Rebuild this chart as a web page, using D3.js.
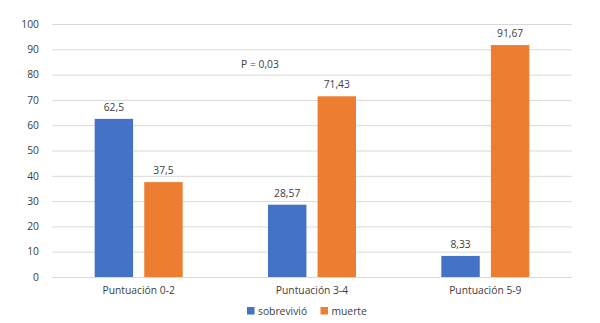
<!DOCTYPE html>
<html><head><meta charset="utf-8">
<script src="https://cdn.jsdelivr.net/npm/d3@7"></script>
<style>body{margin:0;background:#fff}svg{display:block}text{font-family:"Open Sans",sans-serif;fill:#404040}</style>
</head><body>
<svg id="c" width="600" height="323"></svg>
<script>
const categories = ["Puntuación 0-2", "Puntuación 3-4", "Puntuación 5-9"];
const seriesNames = ["sobrevivió", "muerte"];
const sobrevivio = [62.5, 28.57, 8.33];
const muerte = [37.5, 71.43, 91.67];
const valueLabels = [["62,5", "28,57", "8,33"], ["37,5", "71,43", "91,67"]];
const yTicks = [0, 10, 20, 30, 40, 50, 60, 70, 80, 90, 100];
const annotation = "P = 0,03";
const colors = ["#4472C4", "#ED7D31"];
const FS = 10.3;

const svg = d3.select("#c");
const x = d3.scaleBand().domain(categories).range([52, 572]);
const y = d3.scaleLinear().domain([0, 100]).range([277, 24]);
const xs = d3.scaleBand().domain([0, 1]).range([0, 88]).paddingInner(0.225);

svg.append("g").selectAll("line").data(yTicks).join("line")
  .attr("x1", 52).attr("x2", 572)
  .attr("y1", d => y(d) + 0.5).attr("y2", d => y(d) + 0.5)
  .attr("stroke", "#d9d9d9").attr("stroke-width", 1);

const yAxis = d3.axisLeft(y).tickValues(yTicks).tickSize(0).tickPadding(0).tickFormat(d3.format("d"));
const ga = svg.append("g").attr("transform", "translate(39,0)").call(yAxis);
ga.select(".domain").remove();
ga.selectAll("text").attr("font-size", FS).attr("fill", "#404040").attr("font-family", "Open Sans");

const series = [sobrevivio, muerte];
series.forEach((vals, si) => {
  const g = svg.append("g");
  g.selectAll("rect").data(vals).join("rect")
    .attr("x", (d, i) => x(categories[i]) + x.bandwidth() / 2 - 44 + xs(si))
    .attr("width", xs.bandwidth())
    .attr("y", d => y(d))
    .attr("height", d => y(0) - y(d))
    .attr("fill", colors[si]);
  g.selectAll("text").data(vals).join("text")
    .attr("x", (d, i) => x(categories[i]) + x.bandwidth() / 2 - 44 + xs(si) + xs.bandwidth() / 2)
    .attr("y", d => y(d) - 8)
    .attr("text-anchor", "middle").attr("font-size", FS)
    .text((d, i) => valueLabels[si][i]);
});

const xAxis = d3.axisBottom(x).tickSize(0).tickPadding(0);
const gx = svg.append("g").attr("transform", "translate(0,287)").call(xAxis);
gx.select(".domain").remove();
gx.selectAll("text").attr("font-size", FS).attr("fill", "#404040").attr("font-family", "Open Sans").attr("dy", "0.71em");

svg.append("text").attr("x", 260).attr("y", 68).attr("text-anchor", "middle")
  .attr("font-size", FS).text(annotation);

const leg = svg.append("g");
const legX = [247, 320.5];
seriesNames.forEach((n, i) => {
  leg.append("rect").attr("x", legX[i]).attr("y", 307).attr("width", 7.5).attr("height", 7.5).attr("fill", colors[i]);
  leg.append("text").attr("x", legX[i] + 11).attr("y", 315).attr("font-size", FS).text(n);
});
</script>
</body></html>
